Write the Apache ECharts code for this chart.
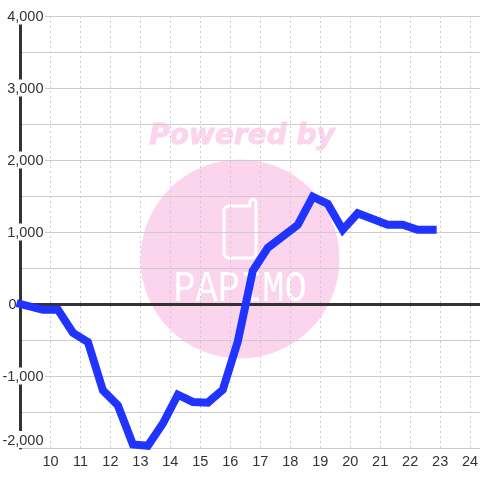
<!DOCTYPE html>
<html><head><meta charset="utf-8">
<style>html,body{margin:0;padding:0;background:#fff}#c{width:480px;height:480px}</style>
<script src="https://cdn.jsdelivr.net/npm/echarts@6/dist/echarts.min.js"></script>
</head><body><div id="c"></div>
<script>
const hours = [9,9.75,10.25,10.75,11.25,11.75,12.25,12.75,13.25,13.75,14.25,14.75,15.25,15.75,16.25,16.75,17.25,17.75,18.25,18.75,19.25,19.75,20.25,20.75,21.25,21.75,22.25,22.75];
const values = [0,-80,-80,-400,-530,-1200,-1410,-1950,-1970,-1660,-1260,-1360,-1370,-1190,-520,460,780,940,1100,1490,1390,1030,1260,1180,1100,1100,1030,1030];
const xTicks = [10,11,12,13,14,15,16,17,18,19,20,21,22,23,24];
const font = '"Liberation Sans", Arial, sans-serif';
const chart = echarts.init(document.getElementById('c'), null, {renderer:'canvas'});
chart.setOption({
  animation:false,
  backgroundColor:'#fff',
  grid:{left:20.5,right:0,top:16,bottom:32,outerBoundsMode:'none'},
  graphic:{elements:[
    {type:'circle',z:-10,silent:true,shape:{cx:240,cy:259,r:99.5},style:{fill:'#fbd5ee'}},
    {type:'text',z:-10,silent:true,x:242,y:137,style:{text:'Powered by',font:'italic bold 28px "DejaVu Sans"',fill:'#fbd5ee',stroke:'#fbd5ee',lineWidth:1,align:'center',verticalAlign:'middle'}},
    {type:'polygon',z:-9,silent:true,shape:{points:[[228,206],[250,206],[250,201],[251,200],[253,199],[255,200],[256,202],[256,254],[255,256.5],[252,258],[228,258],[225.5,256.5],[224,254],[224,210],[225.5,207.5]]},style:{fill:'none',stroke:'#fff',lineWidth:3,lineJoin:'round'}},
    {type:'text',z:-9,silent:true,x:240,y:289,scaleY:1.2,style:{text:'PAPIMO',font:'37px "Liberation Mono"',fill:'#fff',align:'center',verticalAlign:'middle'}}
  ]},
  xAxis:[{
    type:'value',min:9,max:24.33,interval:1,position:'bottom',z:0,
    axisLine:{onZero:false,show:false},axisTick:{show:false},
    axisLabel:{color:'#333',fontFamily:font,fontSize:14.5,margin:6,customValues:xTicks},
    splitLine:{show:true,showMinLine:false,showMaxLine:false,lineStyle:{color:'#ccc',width:1,type:[2,3]}}
  },{
    type:'value',min:9,max:24.33,interval:1,z:1,
    axisLine:{show:true,onZero:true,onZeroAxisIndex:0,lineStyle:{color:'#333',width:3}},
    axisTick:{show:false},axisLabel:{show:false},splitLine:{show:false}
  }],
  yAxis:[{
    type:'value',min:-2000,max:4000,interval:1000,z:0,
    axisLine:{show:false,onZero:false},
    axisTick:{show:false},axisLabel:{show:false},
    minorTick:{show:false,splitNumber:2},
    splitLine:{show:true,showMinLine:true,showMaxLine:true,lineStyle:{color:'#ccc',width:1}},
    minorSplitLine:{show:true,lineStyle:{color:'#ccc',width:1}}
  },{
    type:'value',min:-2000,max:4000,interval:1000,z:2,position:'left',
    axisLine:{show:true,onZero:false,lineStyle:{color:'#333',width:3}},
    axisTick:{show:false},splitLine:{show:false},
    axisLabel:{inside:true,align:'right',margin:24,color:'#333',fontFamily:font,fontSize:14.5,
      verticalAlignMinLabel:'bottom',
      formatter:v=>v===0?'{z|0}':'{n|'+v.toLocaleString('en-US')+'}',
      rich:{
        n:{backgroundColor:'#fff',color:'#333',fontFamily:font,fontSize:14.5,padding:[2,1,0,3]},
        z:{color:'#333',fontFamily:font,fontSize:14.5,padding:[2,28,0,0]}
      }}
  }],
  series:[{type:'line',z:3,xAxisIndex:0,yAxisIndex:0,data:hours.map((h,i)=>[h,values[i]]),showSymbol:false,symbol:'none',
    lineStyle:{color:'#2033ff',width:8,join:'miter',cap:'square'},clip:false}]
});
</script></body></html>
